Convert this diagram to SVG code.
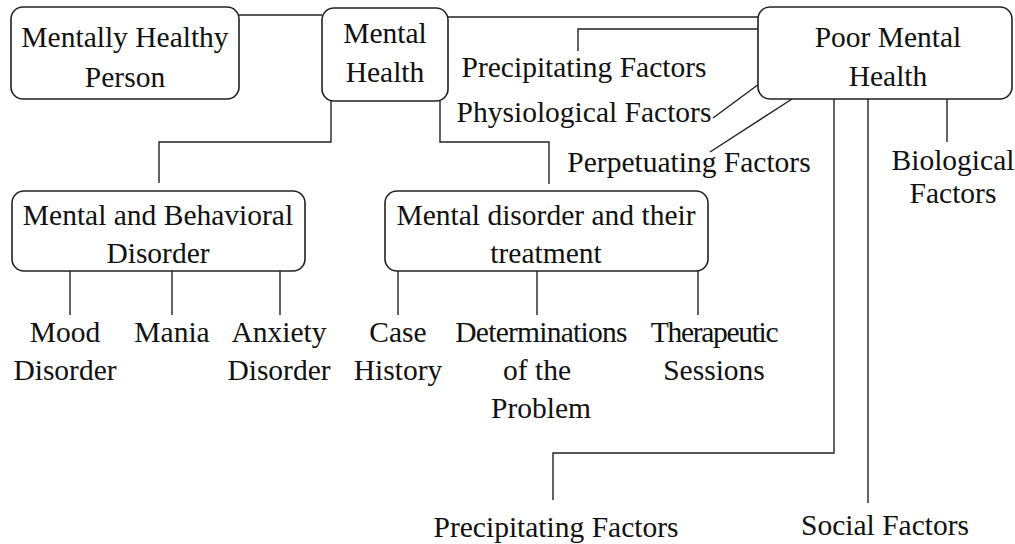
<svg xmlns="http://www.w3.org/2000/svg" width="1015" height="544" viewBox="0 0 1015 544">
<style>
.box{fill:#fff;stroke:#222;stroke-width:1.6}
.ln{fill:none;stroke:#222;stroke-width:1.4}
text{font-family:"Liberation Serif","Times New Roman",serif;font-size:29.5px;fill:#111;text-anchor:middle}
.tight1{letter-spacing:-0.75px}
.tight2{letter-spacing:-1.3px}
</style>
<rect width="1015" height="544" fill="#fff"/>
<g id="connectors">
<path class="ln" d="M239 15 H322"/>
<path class="ln" d="M448 17 H758"/>
<path class="ln" d="M758 29 H578 V51"/>
<path class="ln" d="M713 118 L759 84"/>
<path class="ln" d="M710 152 L792 99"/>
<path class="ln" d="M331 101 V142 H159 V183"/>
<path class="ln" d="M440 101 V142 H549 V184"/>
<path class="ln" d="M70 271 V315 M172 271 V315 M280 271 V315"/>
<path class="ln" d="M398 271 V315 M537 271 V315 M698 271 V315"/>
<path class="ln" d="M947 99 V142"/>
<path class="ln" d="M868 99 V503"/>
<path class="ln" d="M834 99 V453 H553 V500"/>
</g>
<g id="mentally-healthy-person">
<rect class="box" x="11" y="7" width="228" height="92" rx="12"/>
<text x="125" y="47">Mentally Healthy</text>
<text x="125" y="87">Person</text>
</g>
<g id="mental-health">
<rect class="box" x="322" y="8" width="126" height="93" rx="12"/>
<text x="385" y="43">Mental</text>
<text x="385" y="82">Health</text>
</g>
<g id="poor-mental-health">
<rect class="box" x="758" y="7" width="254" height="92" rx="12"/>
<text x="888" y="47">Poor Mental</text>
<text x="888" y="86">Health</text>
</g>
<g id="precipitating-top"><text x="584" y="77">Precipitating Factors</text></g>
<g id="physiological"><text x="584" y="122">Physiological Factors</text></g>
<g id="perpetuating"><text x="689" y="172">Perpetuating Factors</text></g>
<g id="biological"><text x="953" y="170">Biological</text><text x="953" y="203">Factors</text></g>
<g id="mental-behavioral">
<rect class="box" x="12" y="191" width="293" height="80" rx="12"/>
<text x="158" y="225">Mental and Behavioral</text>
<text x="158" y="263">Disorder</text>
</g>
<g id="mental-disorder-treatment">
<rect class="box" x="385" y="191" width="323" height="80" rx="12"/>
<text x="546" y="225">Mental disorder and their</text>
<text x="546" y="263">treatment</text>
</g>
<g id="mood"><text x="65" y="342">Mood</text><text x="65" y="380">Disorder</text></g>
<g id="mania"><text x="172" y="342">Mania</text></g>
<g id="anxiety"><text x="279" y="342">Anxiety</text><text x="279" y="380">Disorder</text></g>
<g id="case-history"><text x="398" y="342">Case</text><text x="398" y="380">History</text></g>
<g id="determinations"><text class="tight1" x="541" y="342">Determinations</text><text x="537" y="380">of the</text><text x="541" y="418">Problem</text></g>
<g id="therapeutic"><text class="tight2" x="714" y="342">Therapeutic</text><text x="714" y="380">Sessions</text></g>
<g id="precipitating-bottom"><text x="556" y="537">Precipitating Factors</text></g>
<g id="social"><text x="885" y="535">Social Factors</text></g>
</svg>
